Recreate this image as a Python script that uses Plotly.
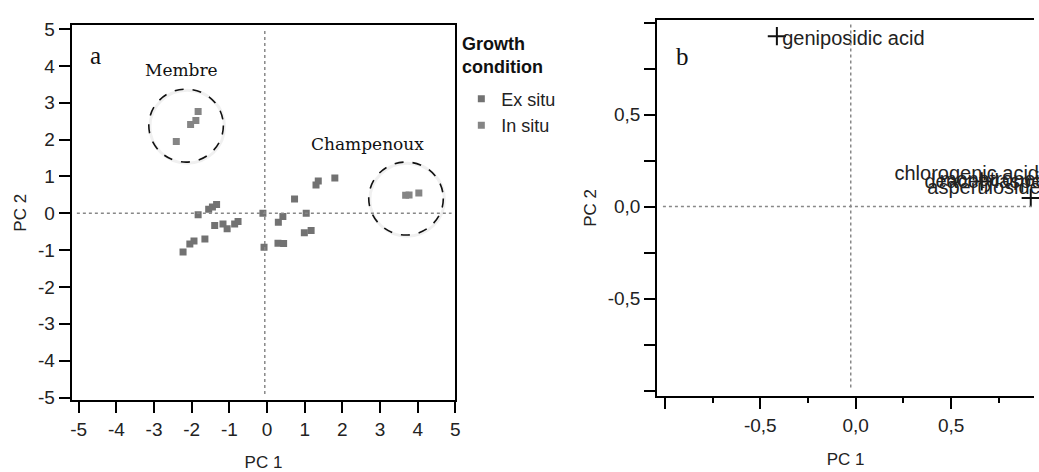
import plotly.graph_objects as go

# ---------------- Panel a: PCA scores ----------------
ex_x = [-1.34, -1.45, -1.55, -1.83, -0.11, -1.39, -1.17, -1.06, -0.86, -0.77,
        -1.65, -1.94, -2.05, -2.23, -0.08, 1.80, 1.36, 1.30, 0.73, 1.04,
        0.42, 0.30, 1.17, 0.99, 0.29, 0.44]
ex_y = [0.24, 0.17, 0.11, -0.04, 0.00, -0.33, -0.29, -0.42, -0.29, -0.22,
        -0.70, -0.75, -0.83, -1.05, -0.92, 0.96, 0.88, 0.77, 0.39, 0.00,
        -0.09, -0.24, -0.47, -0.53, -0.81, -0.82]
in_x = [-1.83, -1.89, -2.03, -2.41, 4.03, 3.77, 3.68]
in_y = [2.76, 2.52, 2.41, 1.95, 0.55, 0.50, 0.49]

site_names = ["Membre", "Champenoux"]
site_cx = [-2.15, 3.69]
site_cy = [2.38, 0.40]
site_r = [0.99, 0.99]
site_label_x = [-2.26, 2.68]
site_label_y = [3.88, 1.88]

a_ticks = [-5, -4, -3, -2, -1, 0, 1, 2, 3, 4, 5]
a_tick_text = ["-5", "-4", "-3", "-2", "-1", "0", "1", "2", "3", "4", "5"]

# ---------------- Panel b: loadings ----------------
var_names = ["geniposidic acid", "chlorogenic acid", "deacetylasperulosidic acid",
             "monotropein", "asperuloside"]
var_x = [-0.413, 0.66, 0.917, 0.95, 0.97]
var_y = [0.926, 0.137, 0.047, 0.12, 0.10]
lab_x = [-0.385, 0.203, 0.36, 0.44, 0.375]
lab_y = [0.905, 0.174, 0.13, 0.14, 0.095]

b_major = [-1.0, -0.5, 0.0, 0.5, 1.0]
b_major_text = ["", "-0,5", "0,0", "0,5", ""]

FONT = "Liberation Sans, Arial, sans-serif"
SERIF = "DejaVu Serif, serif"

fig = go.Figure()

fig.add_trace(go.Scatter(x=ex_x, y=ex_y, mode="markers", name="Ex situ",
                         marker=dict(symbol="square", size=7, color="#727272"),
                         xaxis="x", yaxis="y"))
fig.add_trace(go.Scatter(x=in_x, y=in_y, mode="markers", name="In situ",
                         marker=dict(symbol="square", size=7, color="#858585"),
                         xaxis="x", yaxis="y"))

fig.add_trace(go.Scatter(x=var_x, y=var_y, mode="markers", showlegend=False,
                         marker=dict(symbol="cross-thin", size=13,
                                     line=dict(width=2, color="#111111")),
                         xaxis="x2", yaxis="y2", cliponaxis=False))
fig.add_trace(go.Scatter(x=lab_x, y=lab_y, mode="text", text=var_names,
                         textposition="middle right", showlegend=False,
                         textfont=dict(family=FONT, size=20, color="#222222"),
                         xaxis="x2", yaxis="y2", cliponaxis=False))

shapes = []
# dotted reference lines panel a
shapes.append(dict(type="line", xref="x", yref="y", x0=-0.06, x1=-0.06, y0=4.95, y1=-4.92,
                   line=dict(color="#888888", width=1.5, dash="dot")))
shapes.append(dict(type="line", xref="x", yref="y", x0=-5.05, x1=4.9, y0=0, y1=0,
                   line=dict(color="#888888", width=1.5, dash="dot")))
# circles with a soft shadow
for cx, cy, r in zip(site_cx, site_cy, site_r):
    shapes.append(dict(type="circle", xref="x", yref="y", x0=cx - r + 0.03, x1=cx + r + 0.03,
                       y0=cy - r - 0.03, y1=cy + r - 0.03,
                       line=dict(color="rgba(0,0,0,0.06)", width=3)))
    shapes.append(dict(type="circle", xref="x", yref="y", x0=cx - r, x1=cx + r,
                       y0=cy - r, y1=cy + r,
                       line=dict(color="#111111", width=1.6, dash="dash")))
# dotted reference lines panel b
shapes.append(dict(type="line", xref="x2", yref="y2", x0=-0.026, x1=-0.026, y0=0.99, y1=-0.99,
                   line=dict(color="#888888", width=1.5, dash="dot")))
shapes.append(dict(type="line", xref="x2", yref="y2", x0=-1.01, x1=0.94, y0=0, y1=0,
                   line=dict(color="#888888", width=1.5, dash="dot")))

annotations = []
for name, lx, ly in zip(site_names, site_label_x, site_label_y):
    annotations.append(dict(text=name, x=lx, y=ly, xref="x", yref="y", showarrow=False,
                            font=dict(family=SERIF, size=17, color="#111111")))
annotations.append(dict(text="a", x=-4.55, y=4.28, xref="x", yref="y", showarrow=False,
                        font=dict(family="Liberation Serif, serif", size=25, color="#111111")))
annotations.append(dict(text="b", x=-0.906, y=0.815, xref="x2", yref="y2", showarrow=False,
                        font=dict(family="Liberation Serif, serif", size=25, color="#111111")))
annotations.append(dict(text="<b>Growth</b><br><b>condition</b>", x=462 / 1039, y=1 - 26 / 472,
                        xref="paper", yref="paper", xanchor="left", yanchor="top",
                        align="left", showarrow=False,
                        font=dict(family=FONT, size=18, color="#111111")))

axis_common = dict(showgrid=False, zeroline=False, showline=True, linecolor="black",
                   linewidth=2, ticks="outside", tickcolor="black", tickwidth=2,
                   tickfont=dict(family=FONT, size=19, color="#222222"))

fig.update_layout(
    width=1039, height=472, autosize=False,
    margin=dict(l=0, r=0, t=0, b=0),
    paper_bgcolor="white", plot_bgcolor="white",
    shapes=shapes, annotations=annotations,
    xaxis=dict(domain=[71 / 1039, 457 / 1039], range=[-5.19, 5.0], anchor="y",
               tickmode="array", tickvals=a_ticks, ticktext=a_tick_text, ticklen=11, mirror=True,
               title=dict(text="PC 1", font=dict(family=FONT, size=17, color="#222222"),
                          standoff=17),
               **axis_common),
    yaxis=dict(domain=[66 / 472, 453 / 472], range=[-5.07, 5.1], anchor="x",
               tickmode="array", tickvals=a_ticks, ticktext=a_tick_text, ticklen=11, mirror=True,
               title=dict(text="PC 2", font=dict(family=FONT, size=17, color="#222222"),
                          standoff=7),
               **axis_common),
    xaxis2=dict(domain=[660 / 1039, 1.0], range=[-1.04, 0.934], anchor="y2",
                tickmode="array", tickvals=b_major, ticktext=b_major_text, ticklen=11,
                minor=dict(dtick=0.25, tick0=0, ticklen=5, tickwidth=2, tickcolor="black",
                           ticks="outside"),
                mirror=True,
                title=dict(text="PC 1", font=dict(family=FONT, size=17, color="#222222"),
                           standoff=18),
                **axis_common),
    yaxis2=dict(domain=[70 / 472, 459 / 472], range=[-1.03, 1.016], anchor="x2",
                tickmode="array", tickvals=b_major, ticktext=b_major_text, ticklen=11,
                minor=dict(dtick=0.25, tick0=0, ticklen=11, tickwidth=2, tickcolor="black",
                           ticks="outside"),
                title=dict(text="PC 2", font=dict(family=FONT, size=17, color="#222222"),
                           standoff=7),
                **axis_common),
    legend=dict(x=463 / 1039, y=1 - 76 / 472, xanchor="left", yanchor="top",
                font=dict(family=FONT, size=18, color="#222222"),
                bgcolor="rgba(0,0,0,0)", itemwidth=30, tracegroupgap=0),
)

fig.write_html("out.html")
